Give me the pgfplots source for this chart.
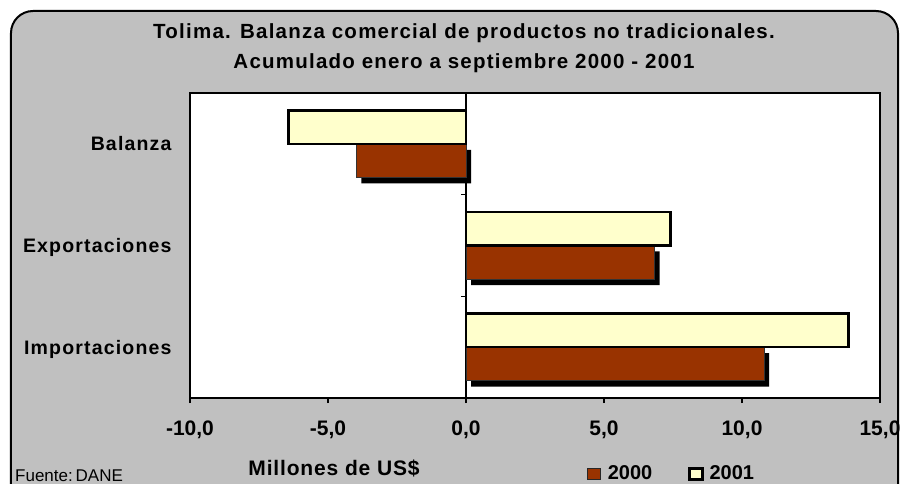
\documentclass[border=0pt]{standalone}
\usepackage{pgfplots}
\pgfplotsset{compat=1.18}
\usepackage{fontspec}
\setmainfont{Liberation Sans}
\newfontfamily\titlefont{Liberation Sans}[LetterSpace=6]
\newfontfamily\catfont{Liberation Sans}[LetterSpace=6]
\newfontfamily\milfont{Liberation Sans}[LetterSpace=4]
\definecolor{bg}{HTML}{C0C0C0}
\definecolor{c2000}{HTML}{993300}
\definecolor{c2001}{HTML}{FFFFCC}
\tikzset{tl/.style={anchor=base, inner sep=0pt, yshift=-37bp, font=\bfseries\fontsize{21bp}{21bp}\selectfont}}
\begin{document}
\begin{tikzpicture}
\useasboundingbox (-190bp,-86bp) rectangle (713bp,398bp);
\fill[white] (-190bp,-86bp) rectangle (713bp,398bp);
\draw[line width=2bp, fill=bg, rounded corners=22bp] (-179bp,-120bp) rectangle (708bp,387bp);
\begin{axis}[
  at={(0,0)}, anchor=south west, scale only axis,
  width=690bp, height=305bp, clip=false,
  xmin=-10, xmax=15, ymin=-0.5, ymax=2.5,
  axis background/.style={fill=white},
  axis line style={line width=1.3bp},
  xtick={-10,-5,0,5,10,15},
  xticklabels={},
  xtick pos=bottom, tick align=outside, major tick length=5bp,
  every tick/.style={black, line width=1.3bp},
  ytick={0,1,2}, yticklabels={Importaciones,Exportaciones,Balanza},
  ytick style={draw=none},
  yticklabel style={font=\catfont\bfseries\fontsize{19.5bp}{19.5bp}\selectfont, anchor=base east, yshift=-7bp, xshift=-10bp},
  legend style={at={(0.571,-0.248)}, anchor=west, draw=none, fill=none,
     font=\bfseries\fontsize{20bp}{20bp}\selectfont,
     /tikz/every even column/.append style={column sep=34bp}},
  legend columns=2,
  legend image code/.code={\draw[#1] (0bp,-6bp) rectangle (13bp,5bp); \path[draw=none, fill=none] (0bp,-0.1bp) rectangle (18bp,0.1bp);},
]
\addlegendimage{fill=c2000, draw=black!85, line width=1.2bp}
\addlegendentry{2000}
\addlegendimage{fill=c2001, draw=black, line width=2.6bp}
\addlegendentry{2001}
\draw[line width=1.3bp] (axis cs:0,-0.5) -- (axis cs:0,2.5);
\draw[line width=1.3bp] (axis cs:0,0.5) -- ++(-5bp,0bp);
\draw[line width=1.3bp] (axis cs:0,1.5) -- ++(-5bp,0bp);
\addplot[xbar, bar width=0.33, bar shift=-0.165, fill=c2000, draw=black!80, line width=0.7bp,
  preaction={fill=black, draw=none, transform canvas={shift={(5bp,-6bp)}}}, forget plot]
  coordinates {(10.8,0) (6.83,1) (-3.97,2)};
\addplot[xbar, bar width=0.33, bar shift=0.165, fill=c2001, draw=black, line width=2.6bp, forget plot]
  coordinates {(13.85,0) (7.42,1) (-6.43,2)};
\node[tl] at (axis cs:-10,-0.5) {-10,0};
\node[tl] at (axis cs:-5,-0.5) {-5,0};
\node[tl] at (axis cs:0,-0.5) {0,0};
\node[tl] at (axis cs:5,-0.5) {5,0};
\node[tl] at (axis cs:10,-0.5) {10,0};
\node[tl] at (axis cs:15,-0.5) {15,0};
\end{axis}
\node[anchor=base, font=\titlefont\bfseries\fontsize{20.5bp}{20.5bp}\selectfont] at (274bp,359.7bp) {Tolima. Balanza comercial de productos no tradicionales.};
\node[anchor=base, font=\titlefont\bfseries\fontsize{20.5bp}{20.5bp}\selectfont] at (274bp,329.7bp) {Acumulado enero a septiembre 2000 - 2001};
\node[anchor=base, font=\milfont\bfseries\fontsize{21bp}{21bp}\selectfont] at (144bp,-77bp) {Millones de US\$};
\node[anchor=base west, inner sep=0pt, font=\fontsize{17bp}{17bp}\selectfont] at (-175bp,-83bp) {Fuente:\,DANE};
\end{tikzpicture}
\end{document}
